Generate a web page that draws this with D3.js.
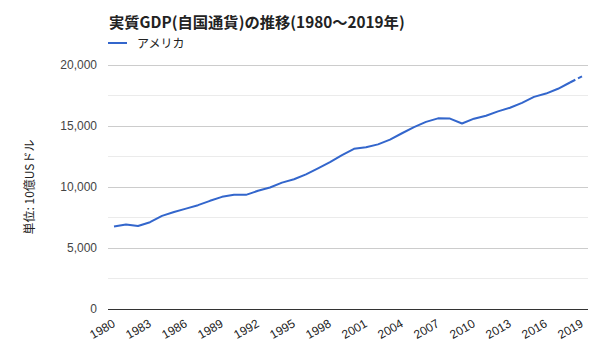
<!DOCTYPE html>
<html><head><meta charset="utf-8">
<script src="https://cdn.jsdelivr.net/npm/d3@7"></script>
<style>
body{margin:0;background:#fff;}
svg{display:block;font-family:"Noto Sans CJK JP","Liberation Sans",sans-serif;}
</style></head>
<body><svg id="c" width="600" height="360"></svg>
<script>
const years = d3.range(1980, 2020);
const gdp = [6759,6930,6805,7117,7632,7951,8226,8511,8867,9193,
             9365,9356,9691,9957,10358,10637,11038,11529,12046,12620,
             13131,13262,13493,13879,14406,14912,15338,15626,15605,15209,
             15599,15841,16197,16495,16900,17387,17659,18051,18566,19073];
const estimateFrom = 2018; // last segment dashed (estimate)
const yTicks = [0,5000,10000,15000,20000];
const minorTicks = [2500,7500,12500,17500];
const xLabelYears = d3.range(1980, 2020, 3);
const title = "実質GDP(自国通貨)の推移(1980～2019年)";
const seriesName = "アメリカ";
const yTitle = "単位: 10億USドル";

const svg = d3.select("#c");
const L=108, R=588, T=65, B=309;
const x = d3.scaleBand().domain(years).range([L,R]);
const cx = d => x(d)+x.bandwidth()/2;
const y = d3.scaleLinear().domain([0,20000]).range([B,T]);

svg.append("g").selectAll("line").data(minorTicks).join("line")
  .attr("x1",L).attr("x2",R).attr("y1",d=>y(d)).attr("y2",d=>y(d))
  .attr("stroke","#ebebeb").attr("stroke-width",1).attr("shape-rendering","crispEdges");
svg.append("g").selectAll("line").data(yTicks.filter(d=>d>0)).join("line")
  .attr("x1",L).attr("x2",R).attr("y1",d=>y(d)).attr("y2",d=>y(d))
  .attr("stroke","#cccccc").attr("stroke-width",1).attr("shape-rendering","crispEdges");
svg.append("g").selectAll("text").data(yTicks).join("text")
  .attr("x",L-11).attr("y",d=>y(d)+4).attr("text-anchor","end")
  .attr("font-size",12).attr("fill","#444").style("font-family","'Liberation Sans',Arial,sans-serif")
  .text(d=>d3.format(",")(d));
svg.append("line").attr("x1",L).attr("x2",R).attr("y1",y(0)).attr("y2",y(0))
  .attr("stroke","#333").attr("stroke-width",1).attr("shape-rendering","crispEdges");

svg.append("g").selectAll("text").data(xLabelYears).join("text")
  .attr("text-anchor","end").attr("font-size",12).attr("fill","#222")
  .style("font-family","'Liberation Sans',Arial,sans-serif")
  .attr("transform",d=>`translate(${cx(d)+2},${y(0)+17}) rotate(-30)`)
  .text(d=>d);

const data = years.map((yr,i)=>({yr,v:gdp[i]}));
const line = d3.line().x(d=>cx(d.yr)).y(d=>y(d.v));
svg.append("path").datum(data.filter(d=>d.yr<=estimateFrom))
  .attr("d",line).attr("fill","none").attr("stroke","#3366cc").attr("stroke-width",2).attr("stroke-linejoin","round");
svg.append("path").datum(data.filter(d=>d.yr>=estimateFrom))
  .attr("d",line).attr("fill","none").attr("stroke","#3366cc").attr("stroke-width",2)
  .attr("stroke-dasharray","6,3");

svg.append("text").attr("x",L+1).attr("y",28).attr("font-size",15.3).attr("font-weight","bold")
  .attr("fill","#222").text(title);
svg.append("line").attr("x1",L).attr("x2",L+19).attr("y1",43).attr("y2",43)
  .attr("stroke","#3366cc").attr("stroke-width",2);
svg.append("text").attr("x",L+29).attr("y",47.5).attr("font-size",12).attr("fill","#222").text(seriesName);
svg.append("text").attr("transform",`translate(34,${(T+B)/2}) rotate(-90)`)
  .attr("text-anchor","middle").attr("font-size",12).attr("fill","#222").text(yTitle);
</script></body></html>
